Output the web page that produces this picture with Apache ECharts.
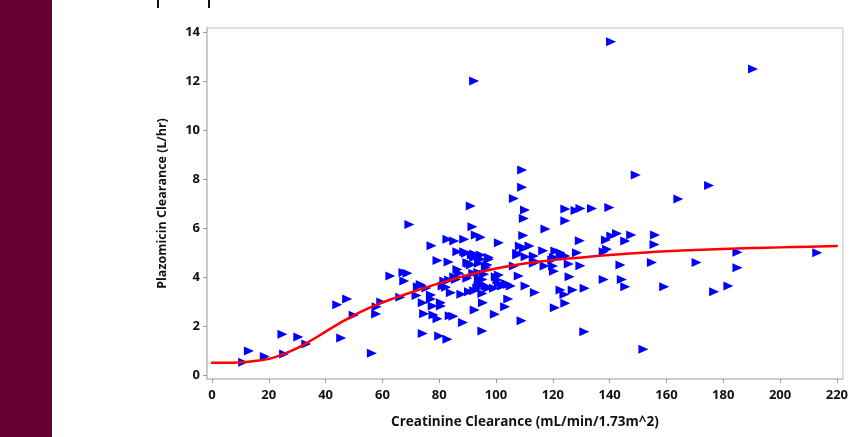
<!DOCTYPE html>
<html>
<head>
<meta charset="utf-8">
<script src="https://cdn.jsdelivr.net/npm/echarts@6/dist/echarts.min.js"></script>
<style>
html,body{margin:0;padding:0;background:#fff;}
#chart{width:851px;height:437px;}
</style>
</head>
<body>
<div id="chart"></div>
<script>
// Observed data: creatinine clearance (x) vs plazomicin clearance (y)
var obsX = [11,13,18.6,24.8,25.4,30.4,33.2,44.1,45.5,47.6,49.9,56.3,57.8,58,59.6,62.8,66.3,67.4,68.8,67.7,69.5,
  72.0,72.5,73.5,74.2,74.7,74.2,75.5,77.1,77.1,77.3,77.7,78.0,79.4,79.4,80.0,80.6,80.6,81.2,81.8,82.4,82.9,82.9,83.3,83.5,83.7,84.1,85.0,85.3,85.3,85.9,86.4,86.4,87.0,87.8,88.4,88.8,88.8,89.4,89.9,89.9,90.5,90.5,91.1,91.1,91.5,91.7,92.0,92.3,92.3,92.3,92.3,92.5,92.9,93.4,93.8,93.8,94.0,94.0,94.6,94.6,94.6,94.6,95.2,95.2,95.2,95.4,95.8,96.4,96.4,97.0,97.0,97.5,97.5,99.3,99.6,99.9,100.5,101,101,101,102.2,103.2,103.4,104.2,104.3,105.2,106.3,106.3,107.5,107.5,108.0,108.4,109.0,109.2,109.2,109.6,109.8,109.8,110.2,110.4,110.4,111.8,113.3,113.3,113.7,113.9,116.6,117.1,117.4,119.8,120.1,120.4,120.4,120.7,120.9,122.7,122.7,123.3,124.1,124.4,124.4,124.4,124.4,125.6,125.9,127,128,128.5,129.5,129.7,129.7,131.1,131.2,133.8,137.9,137.9,138.7,139.1,139.9,140.5,140.6,142.6,143.8,144.3,145.5,145.5,147.6,149.2,151.9,154.9,155.8,156,159.2,164.2,170.6,175,176.8,181.8,185,185,190.5,213.1];
var obsY = [0.52,0.98,0.76,1.67,0.86,1.55,1.27,2.87,1.51,3.1,2.44,0.89,2.49,2.79,2.98,4.04,3.18,4.18,4.15,3.84,6.14,
  3.25,3.6,3.7,2.95,2.5,1.7,3.55,3.27,3.1,5.28,2.82,2.45,2.3,4.67,1.59,2.82,2.95,3.63,3.84,3.58,5.54,1.46,4.61,3.88,2.42,3.36,2.4,5.47,4.01,3.9,4.31,5.03,4.15,3.3,2.15,5.54,5.03,4.97,4.58,3.95,3.4,4.56,6.9,4.49,4.9,6.05,4.15,12.0,4.94,3.44,4.8,2.65,5.71,3.54,3.63,4.18,4.56,3.95,5.62,4.73,4.9,3.74,3.9,3.33,1.8,2.95,4.11,4.39,3.63,3.54,4.49,4.73,4.8,3.54,2.48,4.01,3.88,5.4,4.08,3.74,3.63,2.79,3.74,3.7,3.1,3.63,4.45,7.2,4.97,4.9,4.04,5.27,2.22,8.37,7.66,5.69,6.39,5.17,6.73,4.83,3.63,5.27,4.86,4.56,3.37,4.63,5.07,4.45,5.96,4.69,4.45,4.24,4.8,2.75,5.06,3.47,4.99,4.9,3.29,6.78,6.3,2.93,4.86,4.53,4.01,3.47,6.71,4.99,5.48,6.8,4.46,1.77,3.54,6.8,3.9,5.03,5.51,5.13,6.84,13.6,5.67,5.78,4.49,3.9,5.47,3.6,5.71,8.16,1.05,4.59,5.33,5.71,3.6,7.18,4.59,7.73,3.4,3.63,5.01,4.38,12.49,4.99];
// Fitted curve
var fitX = [0,5,10,15,20,25,30,35,40,45,50,55,60,65,70,75,80,90,100,110,120,130,140,150,160,170,180,190,200,210,220];
var fitY = [0.5,0.5,0.52,0.57,0.66,0.85,1.1,1.42,1.77,2.12,2.44,2.72,2.96,3.17,3.37,3.56,3.74,4.08,4.35,4.55,4.69,4.8,4.9,4.98,5.05,5.1,5.14,5.18,5.21,5.24,5.27];
var xTicks = [0,20,40,60,80,100,120,140,160,180,200,220];
var yTicks = [0,2,4,6,8,10,12,14];

var scatterData = obsX.map(function(x,i){return [x, obsY[i]];});
var lineData = fitX.map(function(x,i){return [x, fitY[i]];});

var chart = echarts.init(document.getElementById('chart'), null, {renderer:'canvas'});
var labelFont = {fontFamily:'Open Sans', fontWeight:'bold', fontSize:13, color:'#111'};
chart.setOption({
  animation:false,
  backgroundColor:'#fff',
  graphic:[
    {type:'rect', left:0, top:0, shape:{width:52, height:437}, style:{fill:'#650033'}},
    {type:'rect', left:157, top:0, shape:{width:2, height:8}, style:{fill:'#111'}},
    {type:'rect', left:208, top:0, shape:{width:2, height:8}, style:{fill:'#111'}}
  ],
  grid:{left:207, right:6, top:28, bottom:58, show:true, borderColor:'#d6d6d6', borderWidth:1.5, backgroundColor:'#fff'},
  xAxis:{
    type:'value', min:-1.75, max:222.1,
    name:'Creatinine Clearance (mL/min/1.73m^2)', nameLocation:'middle', nameGap:36,
    nameTextStyle:{fontFamily:'Open Sans', fontWeight:'bold', fontSize:13.5, color:'#111'},
    axisLine:{show:true, onZero:false, lineStyle:{color:'#c4c4c4', width:1.5}},
    axisTick:{show:true, customValues:xTicks, length:4, lineStyle:{color:'#999'}},
    axisLabel:Object.assign({customValues:xTicks, margin:10}, labelFont),
    splitLine:{show:false}
  },
  yAxis:{
    type:'value', min:-0.16, max:14.16,
    name:'Plazomicin Clearance (L/hr)', nameLocation:'middle', nameGap:38, nameRotate:90,
    nameTextStyle:{fontFamily:'Open Sans', fontWeight:'bold', fontSize:12.5, color:'#111'},
    axisLine:{show:true, onZero:false, lineStyle:{color:'#c4c4c4', width:1.5}},
    axisTick:{show:true, customValues:yTicks, length:4, lineStyle:{color:'#999'}},
    axisLabel:Object.assign({customValues:yTicks, margin:7}, labelFont),
    splitLine:{show:false}
  },
  series:[
    {type:'scatter', data:scatterData, symbol:'triangle', symbolRotate:-90, symbolSize:[9,10],
     itemStyle:{color:'#0000ff', opacity:1}, z:3},
    {type:'line', data:lineData, smooth:0.5, showSymbol:false, symbol:'none',
     lineStyle:{color:'#ff0000', width:2.5, cap:'round', join:'round'}, z:4}
  ]
});
</script>
</body>
</html>
